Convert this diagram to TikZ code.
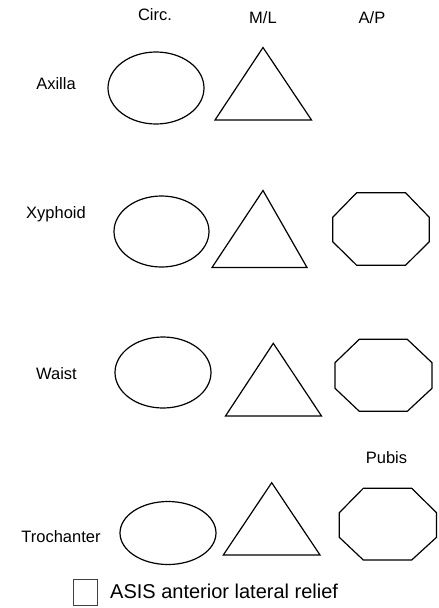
\documentclass[tikz,border=0pt]{standalone}
\usepackage{fontspec}
\setmainfont{Liberation Sans}
\begin{document}
\begin{tikzpicture}[x=1pt,y=-1pt,
  shapeline/.style={draw=black,line width=1.2pt,line join=miter},
  lbl/.style={anchor=base,inner sep=0pt,font=\fontsize{16.5}{19}\selectfont},
  lblbig/.style={anchor=base west,inner sep=0pt,font=\fontsize{20}{24}\selectfont},
  boxst/.style={draw=black!75,line width=1.3pt,minimum width=24pt,minimum height=26pt,inner sep=0pt,anchor=north west}]
\useasboundingbox (0,0) rectangle (439,608);
% headers
\node[lbl] (hcirc) at (155,20) {Circ.};
\node[lbl] (hml) at (263,23) {M/L};
\node[lbl] (hap) at (372,23) {A/P};
% row labels
\node[lbl] (laxilla) at (56,89) {Axilla};
\node[lbl] (lxyphoid) at (56,218) {Xyphoid};
\node[lbl] (lwaist) at (56.5,379) {Waist};
\node[lbl] (lpubis) at (386.5,463) {Pubis};
\node[lbl] (ltroch) at (61,542) {Trochanter};
% ellipses
\draw[shapeline] (156,88) ellipse [x radius=48, y radius=36];
\draw[shapeline] (161.5,231.5) ellipse [x radius=47.5, y radius=35.5];
\draw[shapeline] (163,372.5) ellipse [x radius=48, y radius=35.5];
\draw[shapeline] (168,533) ellipse [x radius=48, y radius=31.5];
% triangles
\draw[shapeline] (215,120) -- (263,47.5) -- (311.5,120) -- cycle;
\draw[shapeline] (212,267.5) -- (263,190.5) -- (307,267.5) -- cycle;
\draw[shapeline] (225.5,416) -- (273.3,343.3) -- (321.5,416) -- cycle;
\draw[shapeline] (223.3,555) -- (271.7,482.7) -- (320,555) -- cycle;
% octagons
\draw[shapeline] (356.7,192.7) -- (405.5,192.7) -- (429.3,217.3) -- (429.3,241.7) -- (405.5,265.3) -- (356.7,265.3) -- (332.7,241.7) -- (332.7,217.3) -- cycle;
\draw[shapeline] (359.3,339.3) -- (407.3,339.3) -- (432,362.7) -- (432,388.3) -- (407.3,411.3) -- (359.3,411.3) -- (335,388.3) -- (335,362.7) -- cycle;
\draw[shapeline] (363.3,488.3) -- (411.7,488.3) -- (436.5,512.7) -- (436.5,537.3) -- (411.7,560) -- (363.3,560) -- (339.3,537.3) -- (339.3,512.7) -- cycle;
% checkbox
\node[boxst] (cbox) at (73,579) {};
\node[lblbig] (asis) at (110,598) {ASIS anterior lateral relief};
\end{tikzpicture}
\end{document}
